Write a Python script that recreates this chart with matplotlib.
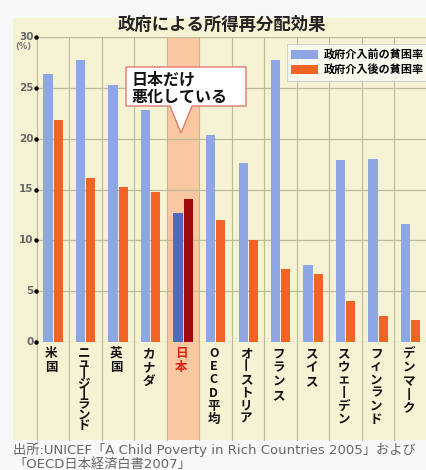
import matplotlib
matplotlib.use("Agg")
import matplotlib.pyplot as plt
from matplotlib.patches import Rectangle, Polygon, Patch
import numpy as np

plt.rcParams['font.family'] = ['Noto Sans CJK JP', 'DejaVu Sans']

# ---- data ----
countries = ["米国", "ニュージーランド", "英国", "カナダ", "日本", "OECD平均",
             "オーストリア", "フランス", "スイス", "スウェーデン", "フィンランド", "デンマーク"]
before = [26.4, 27.7, 25.3, 22.8, 12.7, 20.4, 17.6, 27.7, 7.6, 17.9, 18.0, 11.6]
after = [21.8, 16.1, 15.2, 14.8, 14.1, 12.0, 10.0, 7.2, 6.7, 4.0, 2.6, 2.2]
yticks = [0, 5, 10, 15, 20, 25, 30]
title = "政府による所得再分配効果"
legend_labels = ["政府介入前の貧困率", "政府介入後の貧困率"]
callout = "日本だけ\n悪化している"
source = "出所:UNICEF「A Child Poverty in Rich Countries 2005」および\n「OECD日本経済白書2007」"
highlight = "日本"

W, H = 427, 470
fig = plt.figure(figsize=(W / 100, H / 100), dpi=100)
fig.patch.set_facecolor('#f8f8f8')

def px(x, y):
    return (x / W, 1 - y / H)

CREAM = '#f6f2d4'
GRID = '#bdb99a'
BLUE = '#8fa6e4'
ORANGE = '#f26426'
JBLUE = '#5068c6'
JRED = '#a00a0c'
BAND = '#f9c7a0'

# cream panel
fig.add_artist(Rectangle(px(13, 440), (W - 13) / W, (440 - 18) / H,
                         transform=fig.transFigure, facecolor=CREAM, edgecolor='none', zorder=0))

ax_left, ax_right, ax_top, ax_bot = 37, 427, 37, 342
ax = fig.add_axes([ax_left / W, (H - ax_bot) / H, (ax_right - ax_left) / W, (ax_bot - ax_top) / H])
ax.set_facecolor('none')
n = len(countries)
x = np.arange(n)
ax.set_xlim(-0.5, n - 0.5)
ax.set_ylim(0, 30)
for s in ax.spines.values():
    s.set_visible(False)
ax.set_xticks([])
ax.set_yticks([])

ext = -(440 - ax_bot) / (ax_bot - ax_top)
ji = countries.index(highlight)
ax.axvspan(ji - 0.5, ji + 0.5, ymin=ext, ymax=1, clip_on=False, color=BAND, zorder=0.5, lw=0)
for b in np.arange(-0.5, n - 0.5, 1.0):
    ax.axvline(b, ymin=ext, ymax=1, clip_on=False, color=GRID, lw=0.8, zorder=1)
for v in yticks:
    ax.axhline(v, color=GRID, lw=0.9, zorder=1)

bw = 0.29
bcols = [JBLUE if c == highlight else BLUE for c in countries]
ocols = [JRED if c == highlight else ORANGE for c in countries]
ax.bar(x - bw / 2 - 0.01, before, width=bw, color=bcols, zorder=3, lw=0)
ax.bar(x + bw / 2 + 0.01, after, width=bw, color=ocols, zorder=3, lw=0)

# y tick labels with dot
for v in yticks:
    ax.text(-0.6, v, str(v), ha='right', va='center', fontsize=7.5,
            color='#666666', family='DejaVu Sans', fontweight='bold')
    ax.plot([-0.53], [v], marker='o', ms=2.2, color='black', clip_on=False, zorder=5)
fig.text(*px(15, 46), "(%)", fontsize=6, color='#777777', va='center', ha='left',
         family='DejaVu Sans', fontweight='bold')

# category labels (vertical stacked)
colw = (ax_right - ax_left) / n
for i, name in enumerate(countries):
    chars = ['丨' if ch == 'ー' else ch for ch in name]
    pitch = 12.0 if len(chars) <= 1 else min(12.0, 56.0 / (len(chars) - 1))
    fs = 9.0
    em = fs * 100 / 72
    ls = pitch / (0.88 * em)
    cx = ax_left + colw * (i + 0.5) - 2
    col = '#e02010' if name == highlight else '#111111'
    fig.text(*px(cx, 347), "\n".join(chars), ha='center', va='top', ma='center',
             fontsize=fs, fontweight='bold', color=col, linespacing=ls)

# title
fig.text(*px(222, 25), title, ha='center', va='center', fontsize=12.5,
         fontweight='bold', color='#222222')

# legend
handles = [Patch(facecolor=BLUE, edgecolor='none'), Patch(facecolor=ORANGE, edgecolor='none')]
leg = ax.legend(handles, legend_labels, loc='upper right', bbox_to_anchor=px(428, 44),
                bbox_transform=fig.transFigure, borderaxespad=0, frameon=True,
                fancybox=False, handlelength=2.4, handleheight=0.9,
                handletextpad=0.5, labelspacing=0.2, borderpad=0.4,
                prop={'weight': 'bold', 'size': 8})
leg.get_frame().set_facecolor('#fbfbf4')
leg.get_frame().set_edgecolor('#c8c8c8')
leg.get_frame().set_linewidth(0.8)
leg.set_zorder(6)

# callout
pts = [(126, 67), (246, 67), (246, 106), (192, 106), (181, 133), (170, 106), (126, 106)]
fig.add_artist(Polygon([px(a, b) for a, b in pts], closed=True, transform=fig.transFigure,
                       facecolor='white', edgecolor='#e07a70', lw=1.0, zorder=7))
for k, line in enumerate(callout.split('\n')):
    fig.text(*px(132, 79 + k * 18), line, ha='left', va='center', fontsize=11.5,
             fontweight='bold', color='#111111', zorder=8)

# source
for k, line in enumerate(source.split('\n')):
    fig.text(*px(13, 450 + k * 14), line, ha='left', va='center', fontsize=9.5,
             color='#666666', family=['DejaVu Sans', 'Noto Sans CJK JP'])

fig.savefig('out.png', dpi=100, facecolor=fig.get_facecolor())
